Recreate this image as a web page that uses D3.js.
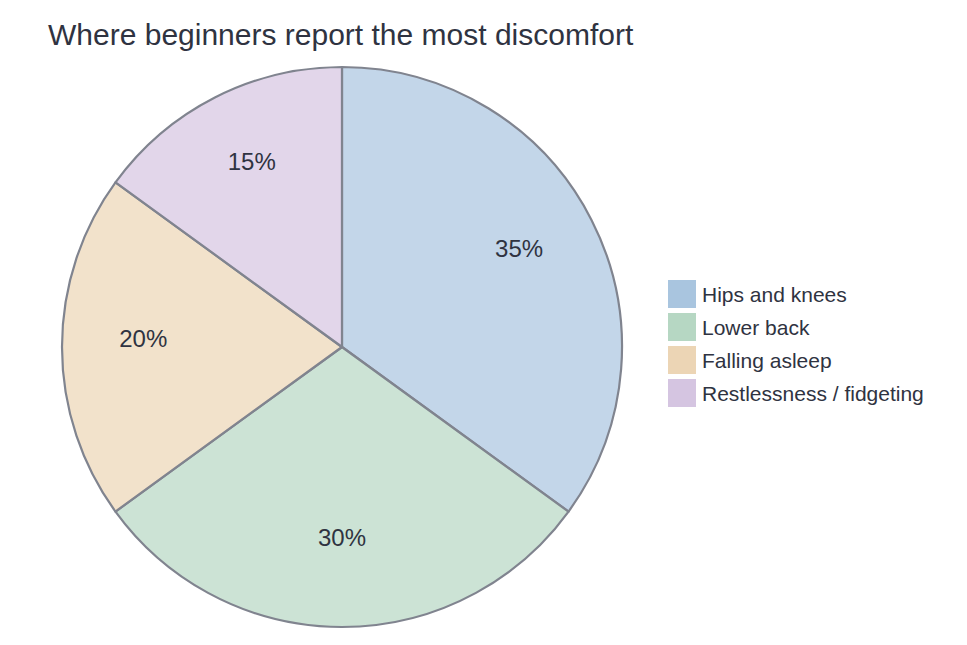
<!DOCTYPE html>
<html><head><meta charset="utf-8">
<script src="https://cdn.jsdelivr.net/npm/d3@7"></script>
<style>body{margin:0;background:#fff;}svg{display:block;font-family:"Liberation Sans",Arial,sans-serif;}</style>
</head><body>
<svg id="chart" width="967" height="645"></svg>
<script>
const title = "Where beginners report the most discomfort";
const categories = ["Hips and knees", "Lower back", "Falling asleep", "Restlessness / fidgeting"];
const values = [35, 30, 20, 15];
const colors = ["#a9c5df", "#b6d7c3", "#ecd5b5", "#d5c5e1"];

const svg = d3.select("#chart");
const cx = 342, cy = 347, r = 280;
const textColor = "#2f3341";

svg.append("text").attr("x", 48).attr("y", 45).attr("font-size", 30)
  .attr("fill", textColor).text(title);

const pie = d3.pie().value(d => d).sort(null);
const arcs = pie(values);
const arc = d3.arc().innerRadius(0).outerRadius(r);
const labelArc = d3.arc().innerRadius(r * 0.71).outerRadius(r * 0.71);
const total = d3.sum(values);

const g = svg.append("g").attr("transform", `translate(${cx},${cy})`);
g.selectAll("path.slice").data(arcs).join("path").attr("class", "slice")
  .attr("d", arc).attr("fill", (d, i) => colors[i]).attr("fill-opacity", 0.7)
  .attr("stroke", "#80848f").attr("stroke-width", 2.2).attr("stroke-linejoin", "round");

g.selectAll("text.lbl").data(arcs).join("text").attr("class", "lbl")
  .attr("transform", d => `translate(${labelArc.centroid(d)})`)
  .attr("text-anchor", "middle")
  .attr("font-size", 24).attr("fill", textColor)
  .text(d => Math.round(d.value / total * 100) + "%");

const leg = svg.append("g").attr("transform", "translate(668,280)");
const row = leg.selectAll("g").data(categories).join("g")
  .attr("transform", (d, i) => `translate(0,${i * 33})`);
row.append("rect").attr("width", 28).attr("height", 28).attr("fill", (d, i) => colors[i]);
row.append("text").attr("x", 34).attr("y", 14).attr("dominant-baseline", "central")
  .attr("font-size", 21).attr("fill", textColor).text(d => d);
</script>
</body></html>
